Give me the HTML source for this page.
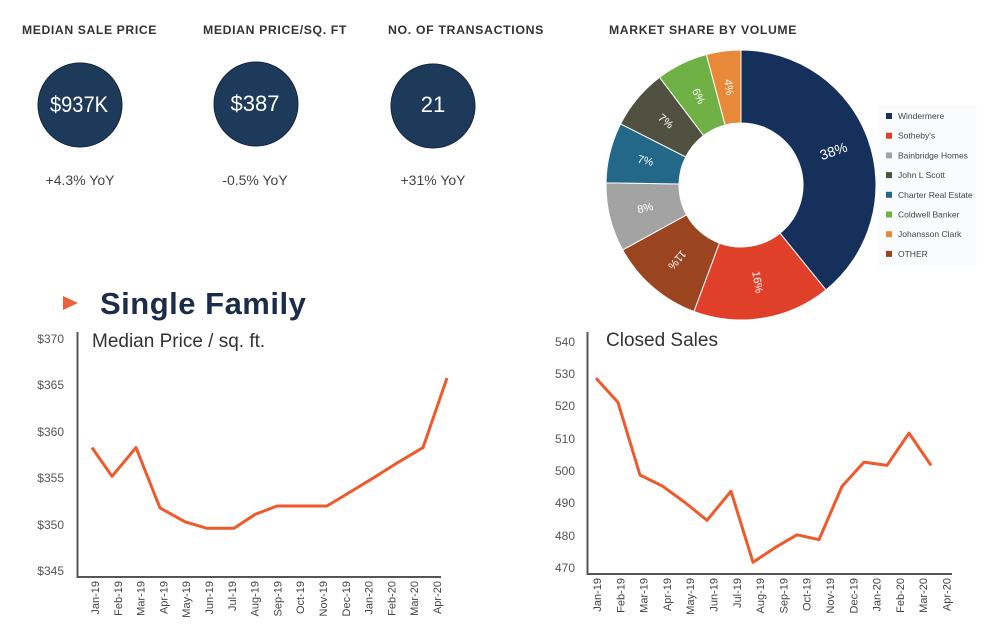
<!DOCTYPE html>
<html><head><meta charset="utf-8">
<style>
body{margin:0;background:#fff;width:998px;height:644px;overflow:hidden;font-family:"Liberation Sans",sans-serif;}
svg{position:absolute;left:0;top:0}
</style></head><body>
<svg id="s" width="998" height="644" xmlns="http://www.w3.org/2000/svg" font-family="Liberation Sans, sans-serif">
<g font-weight="bold" font-size="12" fill="#333" letter-spacing="0.6">
<text x="22" y="34" textLength="135" lengthAdjust="spacingAndGlyphs">MEDIAN SALE PRICE</text>
<text x="203" y="34" textLength="144" lengthAdjust="spacingAndGlyphs">MEDIAN PRICE/SQ. FT</text>
<text x="388" y="34" textLength="156" lengthAdjust="spacingAndGlyphs">NO. OF TRANSACTIONS</text>
<text x="609" y="34" textLength="188" lengthAdjust="spacingAndGlyphs">MARKET SHARE BY VOLUME</text>
</g>
<g fill="#1e3a5a" stroke="#15253a" stroke-width="1">
<circle cx="80" cy="105" r="42"/><circle cx="256" cy="104" r="42"/><circle cx="433" cy="106" r="42"/>
</g>
<g fill="#fff" font-size="22" text-anchor="middle">
<text x="79" y="112" textLength="58" lengthAdjust="spacingAndGlyphs">$937K</text><text x="255" y="111">$387</text><text x="433" y="112">21</text>
</g>
<g fill="#444" font-size="14" text-anchor="middle">
<text x="80" y="185">+4.3% YoY</text><text x="255" y="185">-0.5% YoY</text><text x="433" y="185">+31% YoY</text>
</g>
<polygon points="63,296 78,303 63,310" fill="#e8643a"/>
<text x="100" y="314" font-size="31" fill="#1b2c4a" font-weight="bold" letter-spacing="0.5">Single Family</text>

<rect x="878" y="105" width="99" height="162" fill="#fafbfc"/>
<g id="leg" font-size="8.5" fill="#444"></g>
<g id="donut"></g>

<g font-size="12" fill="#555" text-anchor="end">
<text x="64" y="343">$370</text><text x="64" y="389">$365</text><text x="64" y="436">$360</text>
<text x="64" y="482">$355</text><text x="64" y="529">$350</text><text x="64" y="575">$345</text>
</g>
<path d="M77.5,332 V577 H441" fill="none" stroke="#555" stroke-width="2"/>
<text x="92" y="347" font-size="19" fill="#333">Median Price / sq. ft.</text>
<g id="lx" font-size="11" fill="#444"></g>
<polyline id="l1" fill="none" stroke="#ee5a2c" stroke-width="3" stroke-linejoin="round"/>

<g font-size="12" fill="#555" text-anchor="end">
<text x="575" y="346">540</text><text x="575" y="378">530</text><text x="575" y="410">520</text>
<text x="575" y="443">510</text><text x="575" y="475">500</text><text x="575" y="507">490</text>
<text x="575" y="540">480</text><text x="575" y="572">470</text>
</g>
<path d="M587.5,332 V574 H952" fill="none" stroke="#555" stroke-width="2"/>
<text x="606" y="346" font-size="19" fill="#333">Closed Sales</text>
<g id="rx" font-size="11" fill="#444"></g>
<polyline id="l2" fill="none" stroke="#ee5a2c" stroke-width="3" stroke-linejoin="round"/>
</svg>
<script>
var NS="http://www.w3.org/2000/svg";
function el(p,t,a,txt){var e=document.createElementNS(NS,t);for(var k in a)e.setAttribute(k,a[k]);if(txt)e.textContent=txt;p.appendChild(e);return e;}
var mon=["Jan-19","Feb-19","Mar-19","Apr-19","May-19","Jun-19","Jul-19","Aug-19","Sep-19","Oct-19","Nov-19","Dec-19","Jan-20","Feb-20","Mar-20","Apr-20"];
var lx=document.getElementById("lx"),rx=document.getElementById("rx");
mon.forEach(function(m,i){
 var x=95+22.8*i+4; el(lx,"text",{x:0,y:0,"text-anchor":"end",transform:"translate("+x+",581) rotate(-90)"},m);
 var x2=597+23.3*i+4; el(rx,"text",{x:0,y:0,"text-anchor":"end",transform:"translate("+x2+",578) rotate(-90)"},m);
});
var v1=[358.3,355.2,358.3,351.8,350.3,349.6,349.6,351.1,352,352,352,353.5,355,356.7,358.3,365.8];
var xs1=[92,112,136,160,185,207,234,255,277,302,327,350,373,398,423,447];
document.getElementById("l1").setAttribute("points",v1.map(function(v,i){return xs1[i]+","+(339+(370-v)*9.28).toFixed(1)}).join(" "));
var v2=[528.5,521,498.5,495,490,484.5,493.5,471.5,476,480,478.5,495,502.5,501.5,511.5,501.5];
var xs2=[596,618,640,663,685,707,731,753,775,797,819,842,864,887,909,931];
document.getElementById("l2").setAttribute("points",v2.map(function(v,i){return xs2[i]+","+(341+(540-v)*3.23).toFixed(1)}).join(" "));
var d=[[38,"#15305a"],[16,"#e0402a"],[11,"#9a4520"],[8,"#a3a3a3"],[7,"#236789"],[7,"#4f5040"],[6,"#6fb144"],[4,"#e8893a"]];
var cx=741,cy=185,R=135,r=62,a=0,g=document.getElementById("donut");
function pt(ang,rad){var t=(ang-90)*Math.PI/180;return [cx+rad*Math.cos(t),cy+rad*Math.sin(t)];}
d.forEach(function(s){
 var sw=s[0]/97*360,a2=a+sw,lg=sw>180?1:0;
 var p1=pt(a,R),p2=pt(a2,R),p3=pt(a2,r),p4=pt(a,r);
 el(g,"path",{d:"M"+p1+" A"+R+","+R+" 0 "+lg+" 1 "+p2+" L"+p3+" A"+r+","+r+" 0 "+lg+" 0 "+p4+"Z",fill:s[1],stroke:"#fff","stroke-width":1});
 var m=a+sw/2,c=pt(m,(R+r)/2),rot=m-90; if(m>240)rot-=180;
 el(g,"text",{x:0,y:0,"text-anchor":"middle","dominant-baseline":"middle",fill:"#fff","font-size":s[0]>20?14:11,transform:"translate("+c[0].toFixed(1)+","+c[1].toFixed(1)+") rotate("+rot.toFixed(1)+")"},s[0]+"%");
 a=a2;
});
var L=[["Windermere","#15305a"],["Sotheby's","#e0402a"],["Bainbridge Homes","#a3a3a3"],["John L Scott","#4f5040"],["Charter Real Estate","#236789"],["Coldwell Banker","#6fb144"],["Johansson Clark","#e8893a"],["OTHER","#9a4520"]];
var lg=document.getElementById("leg");
L.forEach(function(l,i){var y=116+19.7*i;el(lg,"rect",{x:886,y:y-3,width:6,height:6,fill:l[1]});el(lg,"text",{x:898,y:y+3},l[0]);});
</script>
</body></html>
